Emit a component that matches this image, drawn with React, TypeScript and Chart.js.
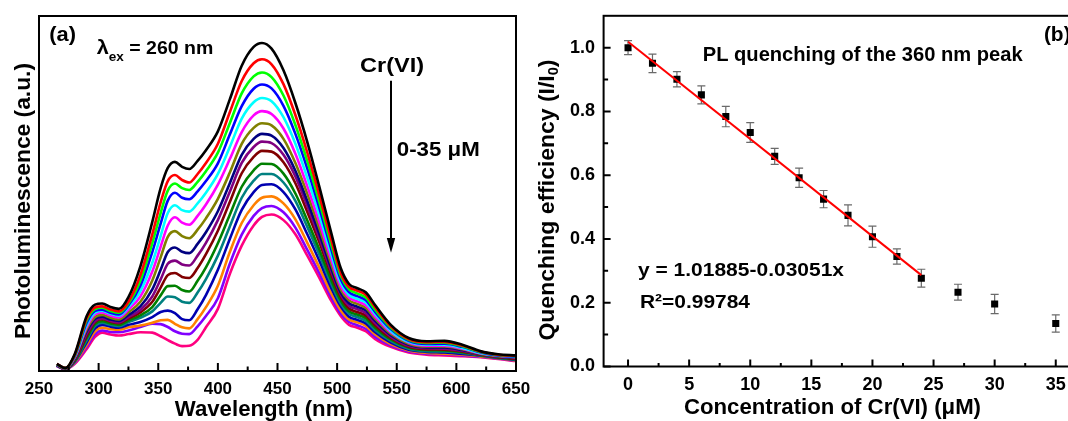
import React, { useEffect, useRef } from "react";
import { Chart, registerables } from "chart.js";

Chart.register(...registerables);

const FONT = 'Arial, "Liberation Sans", Helvetica, sans-serif';

// ---------------- Panel (a): PL spectra (intensity in a.u., 0-100 of frame) ----------------
const WAVELENGTHS = [265, 272, 280, 290, 297, 303, 310, 317, 325, 335, 345, 352, 358, 364, 370, 376, 383, 390, 400, 410, 420, 430, 437, 445, 455, 465, 475, 485, 495, 503, 510, 517, 524, 532, 545, 560, 575, 590, 605, 620, 635, 650];

const PL_00 = [2.0, 0.8, 4.8, 15.5, 18.7, 19.0, 18.0, 17.5, 20.8, 29.5, 42.0, 51.5, 57.2, 58.9, 57.5, 56.9, 59.2, 62.2, 67.5, 76.5, 86.0, 91.3, 92.4, 90.8, 84.7, 75.5, 64.5, 52.0, 39.0, 29.0, 24.5, 23.3, 22.2, 18.5, 13.0, 9.3, 8.4, 8.5, 7.4, 5.6, 4.7, 4.4];
const PL_02 = [2.0, 0.8, 4.6, 14.9, 17.9, 18.2, 17.3, 16.8, 19.5, 27.0, 38.5, 47.5, 53.5, 55.2, 53.8, 53.1, 55.5, 58.6, 64.0, 72.9, 81.7, 86.7, 87.8, 86.4, 80.8, 72.1, 61.5, 49.6, 37.1, 27.7, 23.7, 22.6, 21.5, 17.9, 12.6, 9.0, 8.1, 8.2, 7.2, 5.5, 4.6, 4.3];
const PL_04 = [1.9, 0.8, 4.4, 14.3, 17.4, 17.8, 16.9, 16.4, 19.0, 25.5, 36.0, 44.5, 50.8, 52.8, 51.5, 51.0, 53.3, 56.3, 61.5, 69.8, 78.2, 83.0, 84.1, 82.8, 77.6, 69.3, 59.1, 47.7, 35.7, 26.8, 23.0, 21.8, 20.7, 17.2, 12.2, 8.8, 7.9, 8.0, 7.0, 5.4, 4.5, 4.2];
const PL_06 = [1.9, 0.8, 4.2, 13.6, 16.9, 17.3, 16.4, 15.9, 18.5, 24.0, 33.5, 41.5, 48.0, 50.2, 48.8, 48.4, 50.6, 53.5, 58.5, 66.6, 74.6, 79.5, 80.7, 79.6, 74.7, 66.8, 57.0, 46.0, 34.4, 25.9, 22.2, 21.1, 20.0, 16.6, 11.8, 8.5, 7.6, 7.7, 6.8, 5.3, 4.4, 4.1];
const PL_08 = [1.9, 0.7, 4.1, 13.0, 16.5, 17.0, 16.1, 15.6, 18.0, 22.5, 30.5, 38.0, 44.5, 46.7, 45.3, 44.9, 47.2, 50.2, 55.5, 63.1, 71.1, 75.7, 76.9, 76.0, 71.5, 64.0, 54.4, 44.0, 32.9, 24.9, 21.4, 20.3, 19.3, 16.0, 11.3, 8.2, 7.4, 7.4, 6.5, 5.1, 4.4, 4.0];
const PL_10 = [1.8, 0.7, 3.9, 12.4, 16.0, 16.5, 15.6, 15.1, 17.3, 21.0, 28.0, 35.0, 41.0, 43.3, 41.8, 41.2, 43.7, 46.9, 52.5, 59.7, 67.3, 72.0, 73.2, 72.4, 68.3, 61.2, 52.0, 42.0, 31.5, 23.9, 20.7, 19.6, 18.5, 15.3, 10.9, 8.0, 7.1, 7.1, 6.3, 5.0, 4.3, 3.9];
const PL_12 = [1.8, 0.7, 3.7, 11.8, 15.2, 15.8, 15.0, 14.5, 16.5, 19.5, 25.5, 32.0, 37.8, 39.4, 38.0, 37.4, 39.8, 43.0, 48.5, 55.9, 64.0, 68.5, 69.8, 69.2, 65.4, 58.6, 49.9, 40.3, 30.2, 23.0, 19.9, 18.9, 17.8, 14.7, 10.5, 7.7, 6.9, 6.9, 6.1, 4.9, 4.2, 3.8];
const PL_14 = [1.7, 0.7, 3.5, 11.2, 14.7, 15.3, 14.5, 14.1, 15.8, 18.2, 23.0, 28.5, 33.5, 34.8, 33.6, 33.2, 35.8, 39.1, 45.0, 52.9, 60.9, 65.4, 66.8, 66.3, 62.8, 56.4, 47.9, 38.7, 29.0, 22.1, 19.1, 18.1, 17.1, 14.1, 10.1, 7.4, 6.6, 6.6, 5.9, 4.8, 4.1, 3.7];
const PL_16 = [1.7, 0.6, 3.3, 10.5, 14.1, 14.8, 14.1, 13.7, 15.2, 17.2, 21.0, 25.8, 30.2, 31.1, 30.0, 29.7, 32.5, 36.1, 42.5, 50.5, 58.6, 63.1, 64.6, 64.2, 60.9, 54.8, 46.5, 37.6, 28.1, 21.6, 18.4, 17.4, 16.3, 13.4, 9.7, 7.1, 6.4, 6.3, 5.7, 4.7, 4.0, 3.6];
const PL_18 = [1.7, 0.6, 3.1, 9.9, 13.8, 14.6, 13.9, 13.5, 14.8, 16.5, 19.5, 23.5, 27.0, 27.6, 26.5, 26.2, 29.0, 32.9, 39.5, 47.6, 55.7, 60.3, 62.0, 61.8, 58.8, 52.9, 44.8, 36.3, 27.2, 20.9, 17.6, 16.6, 15.6, 12.8, 9.3, 6.8, 6.1, 6.0, 5.5, 4.6, 3.9, 3.4];
const PL_20 = [1.6, 0.6, 2.9, 9.3, 13.2, 14.0, 13.4, 13.0, 14.2, 15.7, 18.0, 21.3, 23.9, 24.0, 22.8, 22.4, 25.4, 29.2, 36.0, 44.0, 51.9, 56.5, 58.4, 58.3, 55.6, 50.0, 42.4, 34.3, 25.7, 19.9, 16.8, 15.9, 14.9, 12.2, 8.9, 6.6, 5.9, 5.8, 5.3, 4.5, 3.8, 3.3];
const PL_22 = [1.6, 0.6, 2.7, 8.7, 12.7, 13.6, 13.0, 12.6, 13.8, 15.0, 16.8, 19.2, 21.0, 20.8, 19.5, 19.2, 22.1, 25.9, 32.5, 40.7, 48.8, 53.6, 55.5, 55.5, 53.1, 47.9, 40.6, 32.8, 24.6, 19.0, 16.1, 15.2, 14.1, 11.5, 8.5, 6.3, 5.6, 5.5, 5.1, 4.4, 3.7, 3.2];
const PL_24 = [1.5, 0.5, 2.6, 8.1, 12.0, 13.0, 12.5, 12.2, 13.0, 13.8, 15.2, 16.6, 17.0, 16.3, 14.6, 14.3, 17.4, 21.4, 28.5, 37.2, 45.4, 50.4, 52.4, 52.6, 50.4, 45.5, 38.5, 31.1, 23.4, 18.2, 15.3, 14.4, 13.4, 10.9, 8.0, 6.0, 5.4, 5.2, 4.8, 4.3, 3.7, 3.1];
const PL_27 = [1.5, 0.5, 2.4, 7.4, 11.2, 12.2, 11.8, 11.6, 12.3, 12.8, 13.6, 14.3, 14.4, 13.3, 12.3, 12.0, 14.6, 18.0, 24.0, 33.5, 41.7, 46.7, 48.8, 49.2, 47.2, 42.7, 36.1, 29.2, 21.9, 17.1, 14.5, 13.7, 12.7, 10.3, 7.6, 5.8, 5.1, 4.9, 4.6, 4.1, 3.6, 3.0];
const PL_30 = [1.4, 0.5, 2.2, 6.8, 10.4, 11.4, 11.0, 10.9, 11.4, 12.4, 13.3, 13.2, 12.4, 11.2, 10.5, 10.4, 12.6, 15.5, 20.5, 30.2, 38.4, 43.7, 45.9, 46.5, 44.7, 40.4, 34.1, 27.6, 20.8, 16.2, 13.8, 12.9, 11.9, 9.6, 7.2, 5.5, 4.9, 4.7, 4.4, 4.0, 3.5, 2.9];
const PL_35 = [1.4, 0.5, 2.0, 6.2, 9.6, 10.8, 10.3, 10.0, 10.4, 10.9, 10.8, 9.8, 8.7, 7.7, 7.0, 7.1, 8.8, 12.3, 17.5, 27.3, 35.3, 41.0, 43.4, 44.1, 42.5, 38.5, 32.5, 26.3, 19.8, 15.5, 13.0, 12.2, 11.2, 9.0, 6.8, 5.2, 4.6, 4.4, 4.2, 3.9, 3.4, 2.8];

const PL_SERIES = [PL_00, PL_02, PL_04, PL_06, PL_08, PL_10, PL_12, PL_14, PL_16, PL_18, PL_20, PL_22, PL_24, PL_27, PL_30, PL_35];
const PL_LABELS = ["0 μM", "2 μM", "4 μM", "6 μM", "8 μM", "10 μM", "12 μM", "14 μM", "16 μM", "18 μM", "20 μM", "22 μM", "24 μM", "27 μM", "30 μM", "35 μM"];
const PL_COLORS = ["#000000", "#FF0000", "#00FF00", "#0000FF", "#00FFFF", "#FF00FF", "#808000", "#000080", "#800080", "#800000", "#008000", "#008080", "#0000B0", "#FF8000", "#8000FF", "#FF0080"];

// ---------------- Panel (b): quenching efficiency ----------------
const CONCENTRATIONS = [0, 2, 4, 6, 8, 10, 12, 14, 16, 18, 20, 22, 24, 27, 30, 35];
const QUENCH = [1.0, 0.951, 0.901, 0.852, 0.784, 0.734, 0.659, 0.592, 0.525, 0.474, 0.407, 0.345, 0.277, 0.233, 0.196, 0.135];
const QUENCH_ERR = [0.022, 0.029, 0.024, 0.028, 0.032, 0.031, 0.025, 0.030, 0.027, 0.033, 0.033, 0.024, 0.028, 0.025, 0.030, 0.027];
const FIT_X = [0, 24];
const FIT_Y = [1.01885, 0.28661];

type Seg = { text: string; size: number; dy?: number };

function drawRich(
  ctx: CanvasRenderingContext2D,
  segs: Seg[],
  x: number,
  y: number,
  opts: { align?: "left" | "center"; rotate?: number; width?: number } = {}
) {
  ctx.save();
  ctx.translate(x, y);
  if (opts.rotate) ctx.rotate(opts.rotate);
  let total = 0;
  const widths = segs.map((s) => {
    ctx.font = `bold ${s.size}px ${FONT}`;
    const w = ctx.measureText(s.text).width;
    total += w;
    return w;
  });
  const sx = opts.width ? opts.width / total : 1;
  ctx.scale(sx, 1);
  let cx = opts.align === "center" ? -total / 2 : 0;
  ctx.fillStyle = "#000";
  ctx.textBaseline = "alphabetic";
  ctx.textAlign = "left";
  segs.forEach((s, i) => {
    ctx.font = `bold ${s.size}px ${FONT}`;
    ctx.fillText(s.text, cx, s.dy || 0);
    cx += widths[i];
  });
  ctx.restore();
}

function drawFrameAndTicks(chart: any, tickSpec: { x: [number, number]; y?: [number, number] }) {
  const { ctx, chartArea: a, scales } = chart;
  ctx.save();
  ctx.strokeStyle = "#000";
  ctx.lineWidth = 2;
  ctx.strokeRect(a.left, a.top, a.right - a.left, a.bottom - a.top);
  ctx.lineWidth = 2;
  ctx.beginPath();
  const xs = scales.x;
  const xv = xs.ticks.map((t: any) => t.value);
  const xstep = xv[1] - xv[0];
  xv.forEach((v: number) => {
    const p = xs.getPixelForValue(v);
    ctx.moveTo(p, a.bottom);
    ctx.lineTo(p, a.bottom - tickSpec.x[0]);
  });
  for (let v = xv[0] - xstep / 2; v < xs.max; v += xstep) {
    if (v <= xs.min) continue;
    const p = xs.getPixelForValue(v);
    ctx.moveTo(p, a.bottom);
    ctx.lineTo(p, a.bottom - tickSpec.x[1]);
  }
  if (tickSpec.y) {
    const ys = scales.y;
    const yv = ys.ticks.map((t: any) => t.value);
    const ystep = yv[1] - yv[0];
    yv.forEach((v: number) => {
      const p = ys.getPixelForValue(v);
      ctx.moveTo(a.left, p);
      ctx.lineTo(a.left + tickSpec.y![0], p);
    });
    for (let v = yv[0] + ystep / 2; v < ys.max - 1e-9; v += ystep) {
      const p = ys.getPixelForValue(v);
      ctx.moveTo(a.left, p);
      ctx.lineTo(a.left + tickSpec.y![1], p);
    }
  }
  ctx.stroke();
  ctx.restore();
}

const tickFontA = { family: FONT, size: 17, weight: "bold" as const };
const tickFontB = { family: FONT, size: 18, weight: "bold" as const };

function configA(): any {
  return {
    type: "line",
    data: {
      datasets: PL_SERIES.map((vals, i) => ({
        label: PL_LABELS[i],
        data: WAVELENGTHS.map((x, j) => ({ x, y: vals[j] })),
        borderColor: PL_COLORS[i],
        backgroundColor: PL_COLORS[i],
        borderWidth: 2.6,
        pointRadius: 0,
        fill: false,
        cubicInterpolationMode: "monotone",
      })),
    },
    options: {
      responsive: false,
      animation: false,
      devicePixelRatio: 1,
      layout: { padding: { left: 0, right: 18, top: 16, bottom: 0 } },
      plugins: { legend: { display: false }, tooltip: { enabled: false } },
      scales: {
        x: {
          type: "linear",
          min: 250,
          max: 650,
          ticks: { stepSize: 50, includeBounds: false, autoSkip: false, maxRotation: 0, padding: 8, color: "#000", font: tickFontA },
          grid: { display: false, drawTicks: false },
          border: { display: false },
          afterFit: (s: any) => {
            s.height = 50;
            s.paddingLeft = 0;
            s.paddingRight = 0;
          },
        },
        y: {
          type: "linear",
          min: 0,
          max: 100,
          ticks: { display: false },
          grid: { display: false, drawTicks: false },
          border: { display: false },
          afterFit: (s: any) => {
            s.width = 39;
            s.paddingTop = 0;
            s.paddingBottom = 0;
          },
        },
      },
    },
    plugins: [
      {
        id: "panelA",
        afterDraw(chart: any) {
          const ctx = chart.ctx;
          drawFrameAndTicks(chart, { x: [8, 4.5] });
          drawRich(ctx, [{ text: "(a)", size: 20 }], 49.3, 41, { width: 26.7 });
          drawRich(
            ctx,
            [
              { text: "λ", size: 20 },
              { text: "ex", size: 12.5, dy: 7 },
              { text: " = 260 nm", size: 18 },
            ],
            96.7,
            53.5,
            { width: 116.6 }
          );
          drawRich(ctx, [{ text: "Cr(VI)", size: 20 }], 360, 72, { width: 64 });
          drawRich(ctx, [{ text: "0-35 μM", size: 20 }], 396.8, 156, { width: 83 });
          // arrow
          ctx.save();
          ctx.strokeStyle = "#000";
          ctx.fillStyle = "#000";
          ctx.lineWidth = 2;
          ctx.beginPath();
          ctx.moveTo(391, 80.7);
          ctx.lineTo(391, 242);
          ctx.stroke();
          ctx.beginPath();
          ctx.moveTo(386.8, 238);
          ctx.lineTo(395.2, 238);
          ctx.lineTo(391, 252.7);
          ctx.closePath();
          ctx.fill();
          ctx.restore();
          drawRich(ctx, [{ text: "Wavelength (nm)", size: 22 }], 263.8, 416, { align: "center", width: 178 });
          drawRich(ctx, [{ text: "Photoluminescence (a.u.)", size: 22 }], 30, 201, {
            align: "center",
            rotate: -Math.PI / 2,
            width: 276,
          });
        },
      },
    ],
  };
}

function configB(): any {
  return {
    type: "scatter",
    data: {
      datasets: [
        {
          label: "I/I0",
          data: CONCENTRATIONS.map((x, i) => ({ x, y: QUENCH[i] })),
          pointStyle: "rect",
          pointRadius: 5,
          pointBorderWidth: 0,
          backgroundColor: "#000",
          borderColor: "#000",
          order: 1,
        },
        {
          type: "line",
          label: "fit",
          data: FIT_X.map((x, i) => ({ x, y: FIT_Y[i] })),
          borderColor: "#FF0000",
          backgroundColor: "#FF0000",
          borderWidth: 2,
          pointRadius: 0,
          fill: false,
          order: 0,
        },
      ],
    },
    options: {
      responsive: false,
      animation: false,
      devicePixelRatio: 1,
      layout: { padding: { left: 0, right: 13.8, top: 15.8, bottom: 0 } },
      plugins: { legend: { display: false }, tooltip: { enabled: false } },
      scales: {
        x: {
          type: "linear",
          min: -2,
          max: 37,
          ticks: {
            stepSize: 5,
            includeBounds: false,
            autoSkip: false,
            maxRotation: 0,
            padding: 7.5,
            color: "#000",
            font: tickFontB,
            callback: (v: any) => String(v),
          },
          grid: { display: false, drawTicks: false },
          border: { display: false },
          afterFit: (s: any) => {
            s.height = 54.5;
            s.paddingLeft = 0;
            s.paddingRight = 0;
          },
        },
        y: {
          type: "linear",
          min: 0,
          max: 1.1,
          ticks: {
            stepSize: 0.2,
            includeBounds: false,
            padding: 8.5,
            color: "#000",
            font: tickFontB,
            callback: (v: any) => Number(v).toFixed(1),
          },
          grid: { display: false, drawTicks: false },
          border: { display: false },
          afterFit: (s: any) => {
            s.width = 69.6;
            s.paddingTop = 0;
            s.paddingBottom = 0;
          },
        },
      },
    },
    plugins: [
      {
        id: "panelB",
        beforeDatasetsDraw(chart: any) {
          const ctx = chart.ctx;
          const ys = chart.scales.y;
          const meta = chart.getDatasetMeta(0);
          ctx.save();
          ctx.strokeStyle = "#6a6a6a";
          ctx.lineWidth = 1.2;
          meta.data.forEach((pt: any, i: number) => {
            const x = pt.x;
            const yTop = ys.getPixelForValue(QUENCH[i] + QUENCH_ERR[i]);
            const yBot = ys.getPixelForValue(QUENCH[i] - QUENCH_ERR[i]);
            ctx.beginPath();
            ctx.moveTo(x, yTop);
            ctx.lineTo(x, yBot);
            ctx.moveTo(x - 4, yTop);
            ctx.lineTo(x + 4, yTop);
            ctx.moveTo(x - 4, yBot);
            ctx.lineTo(x + 4, yBot);
            ctx.stroke();
          });
          ctx.restore();
        },
        afterDraw(chart: any) {
          const ctx = chart.ctx;
          drawFrameAndTicks(chart, { x: [7, 3.5], y: [7, 4.5] });
          drawRich(ctx, [{ text: "(b)", size: 20 }], 509.9, 41, { width: 26.7 });
          drawRich(ctx, [{ text: "PL quenching of the 360 nm peak", size: 20 }], 168.7, 61, { width: 320 });
          drawRich(ctx, [{ text: "y = 1.01885-0.03051x", size: 19 }], 104, 276, { width: 206 });
          drawRich(ctx, [{ text: "R²=0.99784", size: 19 }], 106, 307.7, { width: 110 });
          drawRich(ctx, [{ text: "Concentration of Cr(VI) (μM)", size: 22 }], 298.5, 414, { align: "center", width: 297 });
          drawRich(
            ctx,
            [
              { text: "Quenching efficiency (I/I", size: 22 },
              { text: "0", size: 14, dy: 4 },
              { text: ")", size: 22 },
            ],
            20,
            200,
            { align: "center", rotate: -Math.PI / 2, width: 281 }
          );
        },
      },
    ],
  };
}

export default function App() {
  const refA = useRef<HTMLCanvasElement>(null);
  const refB = useRef<HTMLCanvasElement>(null);
  useEffect(() => {
    const a = new Chart(refA.current as HTMLCanvasElement, configA());
    const b = new Chart(refB.current as HTMLCanvasElement, configB());
    return () => {
      a.destroy();
      b.destroy();
    };
  }, []);
  return (
    <div
      style={{
        position: "fixed",
        left: 0,
        top: 0,
        width: 1068,
        height: 421,
        overflow: "hidden",
        background: "#fff",
      }}
    >
      <canvas
        ref={refA}
        width={534}
        height={421}
        style={{ position: "absolute", left: 0, top: 0, width: 534, height: 421 }}
      />
      <canvas
        ref={refB}
        width={560}
        height={421}
        style={{ position: "absolute", left: 534, top: 0, width: 560, height: 421 }}
      />
    </div>
  );
}
